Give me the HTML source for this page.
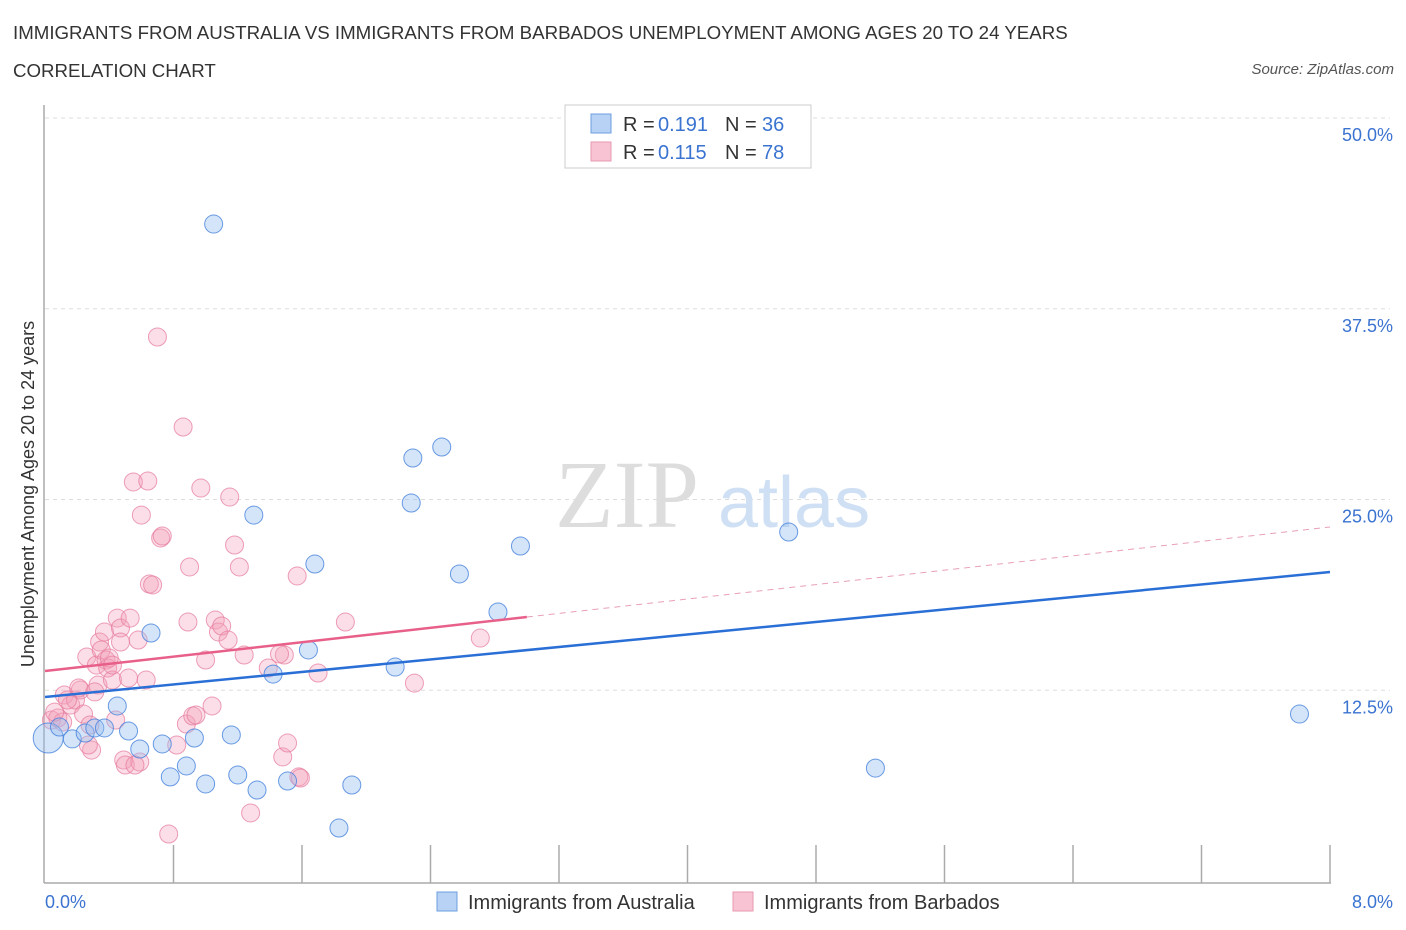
<!DOCTYPE html>
<html><head><meta charset="utf-8"><style>
body{margin:0;background:#fff;font-family:"Liberation Sans",sans-serif;}
#wrap{position:relative;width:1406px;height:930px;overflow:hidden;}
.t{position:absolute;white-space:nowrap;}
</style></head><body>
<div id="wrap">
<div class="t" style="left:13px;top:22px;font-size:18.7px;color:#333;">IMMIGRANTS FROM AUSTRALIA VS IMMIGRANTS FROM BARBADOS UNEMPLOYMENT AMONG AGES 20 TO 24 YEARS</div>
<div class="t" style="left:13px;top:60px;font-size:18.7px;color:#333;">CORRELATION CHART</div>
<div class="t" style="right:12px;top:61px;font-size:15px;color:#555;font-style:italic;">Source: ZipAtlas.com</div>
<svg id="plot" width="1406" height="930" style="position:absolute;left:0;top:0"></svg>
</div>
<script>
const yTicks=[12.5,25,37.5,50];
const yTickLabels=["12.5%","25.0%","37.5%","50.0%"];
const xTickLabels=["0.0%","8.0%"];
const ausX=[0.02,0.09,0.17,0.25,0.31,0.37,0.45,0.52,0.59,0.66,0.73,0.78,0.88,0.93,1.00,1.05,1.16,1.20,1.30,1.32,1.42,1.51,1.64,1.68,1.83,1.91,2.18,2.28,2.29,2.47,2.58,2.82,2.96,4.63,5.17,7.81];
const ausY=[9.37,10.09,9.31,9.70,10.03,10.03,11.47,9.83,8.65,16.25,8.98,6.82,7.54,9.37,6.36,43.05,9.57,6.95,23.98,5.96,13.56,6.55,15.14,20.77,3.47,6.29,14.02,24.77,27.72,28.44,20.12,17.63,21.95,22.87,7.40,10.94];
const barX=[0.04,0.08,0.11,0.12,0.16,0.19,0.22,0.24,0.26,0.28,0.29,0.32,0.33,0.34,0.35,0.37,0.38,0.39,0.40,0.42,0.44,0.45,0.47,0.49,0.50,0.52,0.53,0.55,0.58,0.59,0.60,0.63,0.64,0.65,0.70,0.72,0.73,0.77,0.86,0.88,0.89,0.90,0.92,0.97,1.00,1.04,1.06,1.08,1.10,1.14,1.15,1.18,1.21,1.24,1.28,1.39,1.48,1.49,1.51,1.57,1.58,1.59,1.70,1.87,2.30,2.71,0.06,0.14,0.21,0.27,0.31,0.42,0.47,0.56,0.67,0.82,0.94,1.46];
const barY=[10.55,10.68,10.42,12.19,11.53,11.86,12.52,10.94,14.68,10.22,8.58,14.15,12.84,15.66,15.14,16.32,14.48,13.96,14.61,13.17,10.55,17.23,16.58,7.93,7.60,13.30,17.23,26.15,15.79,7.80,23.98,13.17,26.21,19.46,35.65,22.48,22.61,3.08,29.75,10.29,16.97,20.58,10.81,25.75,14.48,11.47,17.10,16.32,16.71,15.79,25.16,22.02,20.58,14.81,4.46,13.96,8.13,14.81,9.04,19.99,6.82,6.75,13.63,16.97,12.97,15.92,11.07,11.86,12.65,8.91,12.39,14.15,15.66,7.60,19.40,8.91,10.88,14.88];
const ausTrend=[12.06,20.25];
const barTrend=[13.76,17.30,23.2];
const X0=45,X1=1330,Y0=881,Y50=118;
const sx=v=>X0+(v/8)*(X1-X0);
const sy=v=>Y0-(v/50)*(Y0-Y50);
const svg=document.getElementById('plot');
const NS='http://www.w3.org/2000/svg';
function mk(tag,attrs,name){const e=document.createElementNS(NS,tag);for(const k in attrs)e.setAttribute(k,attrs[k]);


svg.appendChild(e);return e;}
yTicks.forEach((t,i)=>{mk('line',{x1:X0,x2:X1+60,y1:sy(t),y2:sy(t),stroke:'#ddd','stroke-dasharray':'4,4'},'y-gridline');
const tx=mk('text',{x:1393,y:sy(t)+23,'text-anchor':'end','font-size':18,fill:'#3a73d0'},'y-tick-label');tx.textContent=yTickLabels[i];});
const wm=mk('text',{x:555,y:527,'font-size':96,fill:'#ddd','font-family':'Liberation Serif'},'watermark-zip');wm.textContent='ZIP';
const wm2=mk('text',{x:718,y:527,'font-size':72,fill:'#cfe0f5'},'watermark-atlas');wm2.textContent='atlas';
mk('line',{x1:44,x2:44,y1:105,y2:883,stroke:'#aaa','stroke-width':1.5},'y-axis-line');
mk('line',{x1:44,x2:1331,y1:883,y2:883,stroke:'#aaa','stroke-width':1.5},'x-axis-line');
for(let i=1;i<=10;i++){const x=sx(i*0.8);mk('line',{x1:x,x2:x,y1:845,y2:883,stroke:'#aaa','stroke-width':1.5},'x-tick');}
const xl0=mk('text',{x:45,y:908,'font-size':18,fill:'#3a73d0'},'x-tick-label');xl0.textContent=xTickLabels[0];
const xl1=mk('text',{x:1393,y:908,'text-anchor':'end','font-size':18,fill:'#3a73d0'},'x-tick-label');xl1.textContent=xTickLabels[1];
const yt=mk('text',{x:34,y:494,'font-size':18,fill:'#333','text-anchor':'middle',transform:'rotate(-90 34 494)'},'y-axis-title');yt.textContent='Unemployment Among Ages 20 to 24 years';
barX.forEach((v,i)=>mk('circle',{cx:sx(v),cy:sy(barY[i]),r:9,fill:'rgba(244,160,185,0.35)',stroke:'rgba(230,120,155,0.7)','stroke-width':1},'barbados-point'));
ausX.forEach((v,i)=>mk('circle',{cx:sx(v),cy:sy(ausY[i]),r:i==0?15:9,fill:'rgba(150,190,240,0.4)',stroke:'rgba(70,130,220,0.8)','stroke-width':1},'australia-point'));
mk('line',{x1:sx(0),y1:sy(ausTrend[0]),x2:sx(8),y2:sy(ausTrend[1]),stroke:'#2a6fd6','stroke-width':2.5},'australia-trendline');
mk('line',{x1:sx(0),y1:sy(barTrend[0]),x2:sx(3.0),y2:sy(barTrend[1]),stroke:'#e8608a','stroke-width':2.5},'barbados-trendline');
mk('line',{x1:sx(3.0),y1:sy(barTrend[1]),x2:sx(8),y2:sy(barTrend[2]),stroke:'#e8a0b5','stroke-width':1,'stroke-dasharray':'6,5'},'barbados-trendline-extension');
mk('rect',{x:565,y:105,width:246,height:63,fill:'#fff',stroke:'#ccc'},'legend-box');
mk('rect',{x:591,y:114,width:20,height:19,fill:'#b7d2f5',stroke:'#6e9fe0'},'legend-swatch-australia');
mk('rect',{x:591,y:142,width:20,height:19,fill:'#f8c3d3',stroke:'#e89ab2'},'legend-swatch-barbados');
function lt(x,y,s,c,n){const t=mk('text',{x:x,y:y,'font-size':20,fill:c},n);t.textContent=s;}
lt(623,131,'R = ','#333','legend-r-label');lt(658,131,'0.191','#3a73d0','legend-r-australia');
lt(725,131,'N = ','#333','legend-n-label');lt(762,131,'36','#3a73d0','legend-n-australia');
lt(623,159,'R = ','#333','legend-r-label');lt(658,159,'0.115','#3a73d0','legend-r-barbados');
lt(725,159,'N = ','#333','legend-n-label');lt(762,159,'78','#3a73d0','legend-n-barbados');
mk('rect',{x:437,y:892,width:20,height:19,fill:'#b7d2f5',stroke:'#6e9fe0'},'bottom-legend-swatch-australia');
mk('rect',{x:733,y:892,width:20,height:19,fill:'#f8c3d3',stroke:'#e89ab2'},'bottom-legend-swatch-barbados');
lt(468,909,'Immigrants from Australia','#333','bottom-legend-australia');
lt(764,909,'Immigrants from Barbados','#333','bottom-legend-barbados');
</script>
</body></html>
